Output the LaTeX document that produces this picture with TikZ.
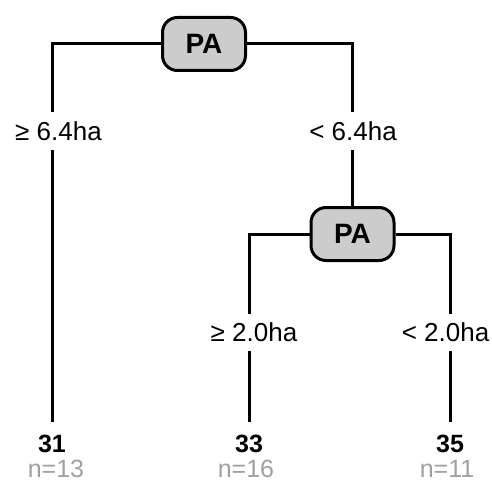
\documentclass[tikz,border=0pt]{standalone}
\usepackage{fontspec}
\setmainfont{Liberation Sans}
\definecolor{boxfill}{HTML}{CCCCCC}
\definecolor{ngray}{HTML}{A0A0A0}
\begin{document}
\begin{tikzpicture}[x=1pt,y=-1pt,
  split/.style={draw=black, line width=3pt, fill=boxfill, rounded corners=15pt,
    minimum width=83pt, minimum height=53pt, inner sep=0pt,
    font=\fontsize{28}{32}\selectfont\bfseries},
  edgelabel/.style={fill=white, inner xsep=2pt, inner ysep=0pt, minimum height=37pt,
    font=\fontsize{26}{30}\selectfont},
  leafval/.style={inner sep=0pt, minimum height=44pt, font=\fontsize{25}{29}\selectfont\bfseries},
  leafn/.style={inner sep=0pt, text=ngray, font=\fontsize{25}{29}\selectfont},
  branch/.style={line width=3pt}]
\useasboundingbox (0,0) rectangle (492,484);
% split nodes
\node[split] (pa1) at (204,44) {PA};
\node[split] (pa2) at (352.5,234) {PA};
% leaves
\node[leafval] (leaf31) at (52,444) {31};
\node[leafval] (leaf33) at (249,444) {33};
\node[leafval] (leaf35) at (450,444) {35};
\node[leafn] (n13) at (56,469) {n=13};
\node[leafn] (n16) at (246,469) {n=16};
\node[leafn] (n11) at (447,469) {n=11};
% branches
\draw[branch] (pa1.west) -| (leaf31.north);
\draw[branch] (pa1.east) -| (pa2.north);
\draw[branch] (pa2.west) -| (leaf33.north);
\draw[branch] (pa2.east) -| (leaf35.north);
% edge labels
\node[edgelabel] (l1) at (58.5,131) {≥ 6.4ha};
\node[edgelabel] (l2) at (353,131) {< 6.4ha};
\node[edgelabel] (l3) at (254,332) {≥ 2.0ha};
\node[edgelabel] (l4) at (445.5,332) {< 2.0ha};
\end{tikzpicture}
\end{document}
